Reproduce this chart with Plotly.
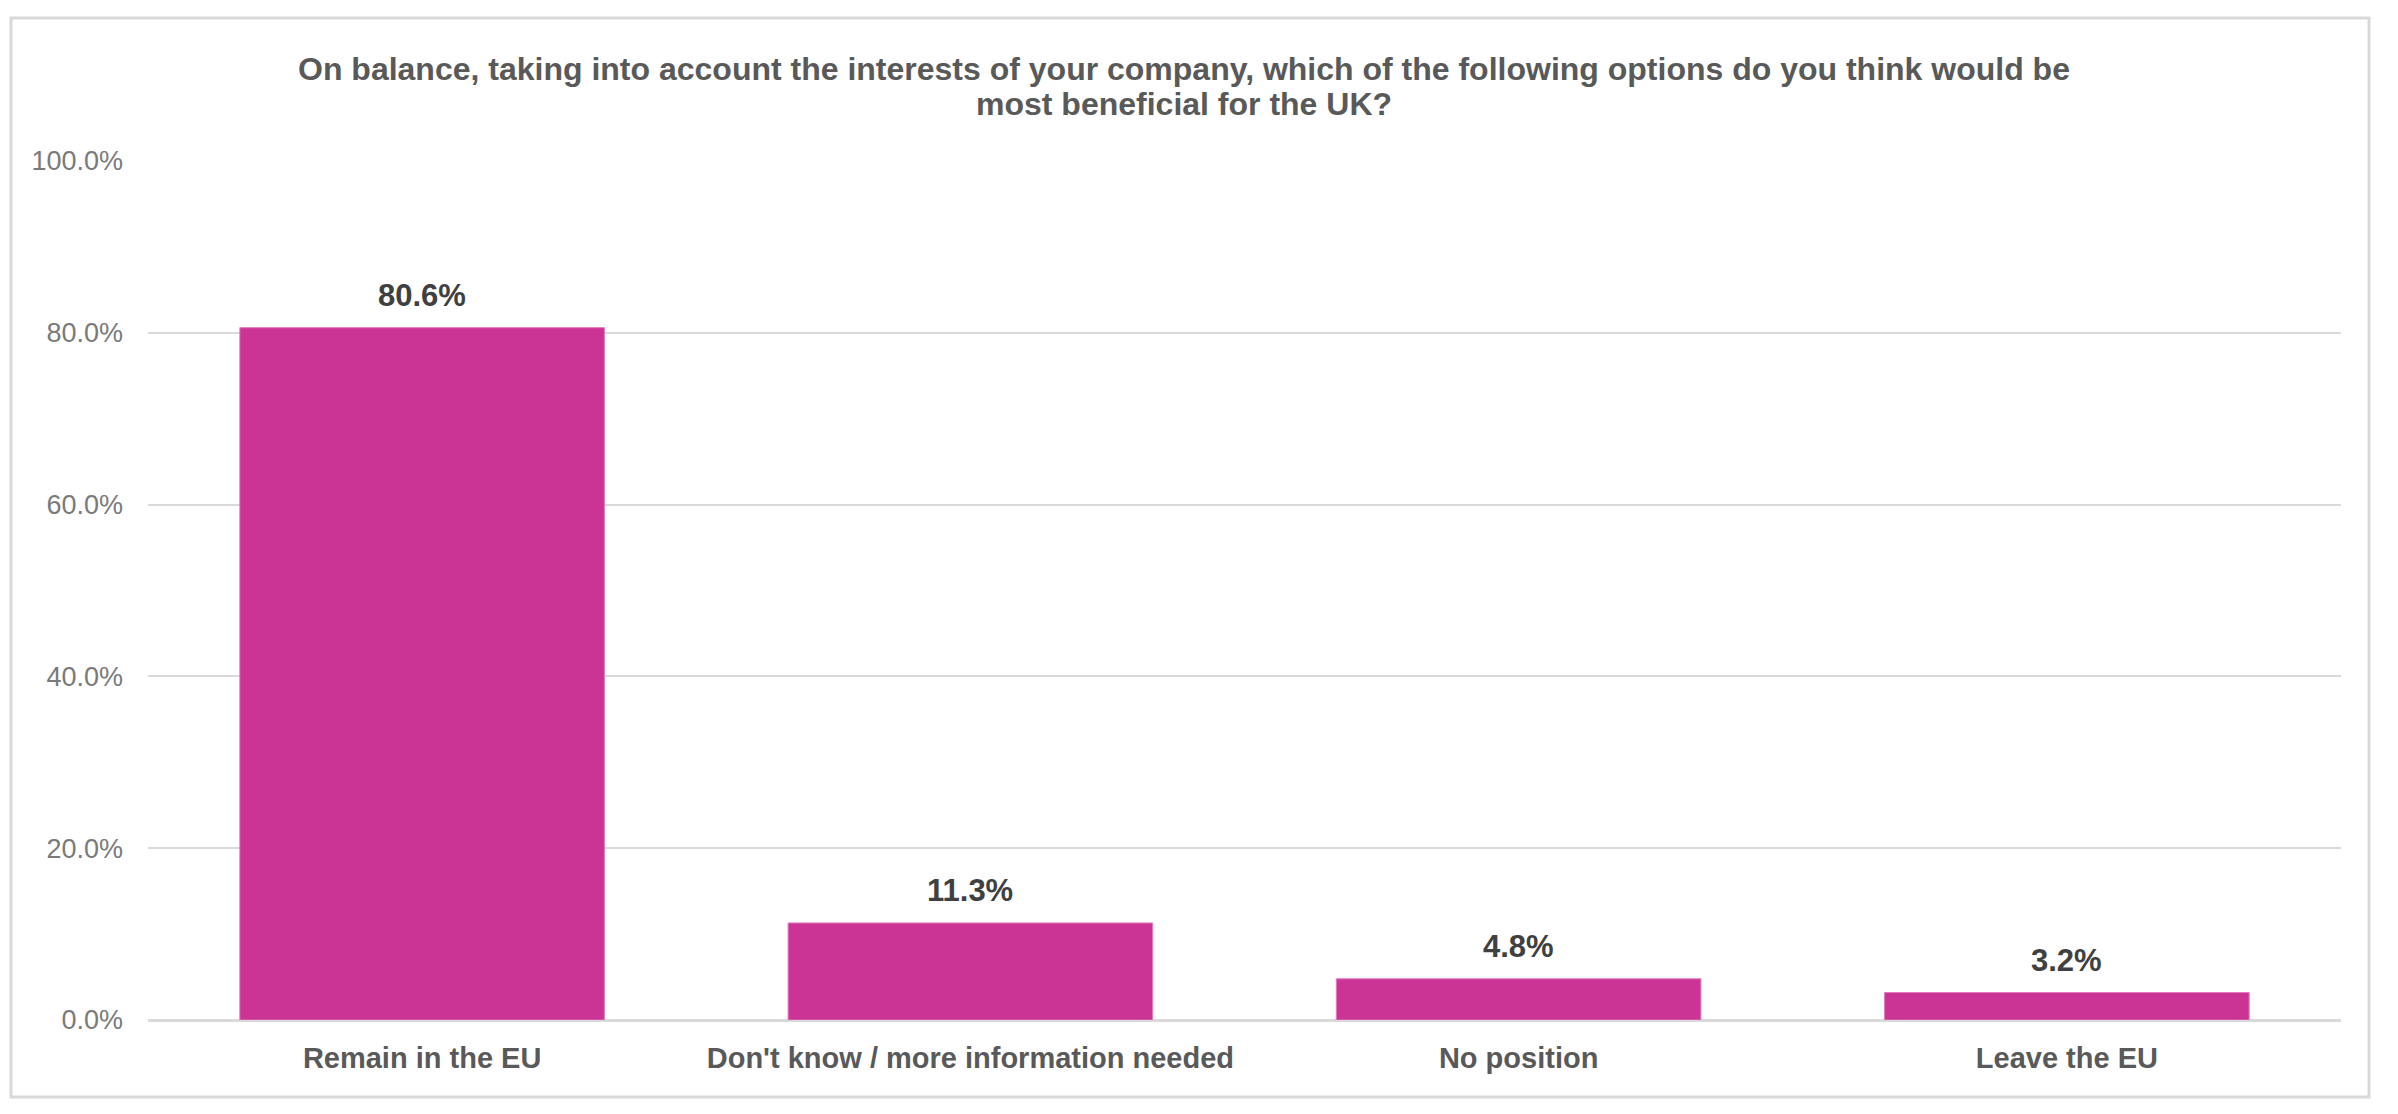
import plotly.graph_objects as go

categories = ["Remain in the EU", "Don't know / more information needed", "No position", "Leave the EU"]
values = [80.6, 11.3, 4.8, 3.2]
value_labels = ["80.6%", "11.3%", "4.8%", "3.2%"]
y_ticks = [0, 20, 40, 60, 80, 100]
y_tick_labels = ["0.0%", "20.0%", "40.0%", "60.0%", "80.0%", "100.0%"]
title_lines = ["On balance, taking into account the interests of your company, which of the following options do you think would be",
               "most beneficial for the UK?"]

FONT = "Liberation Sans, Arial, sans-serif"
BAR = "#CB3494"
GRID = "#D9D9D9"
TXT = "#595959"

W, H = 2398, 1114
L, R, T, B = 148, 57, 161, 94
pw, ph = W - L - R, H - T - B

fig = go.Figure()
fig.add_trace(go.Bar(
    x=categories, y=values,
    marker=dict(color=BAR, line=dict(color="#E07BBE", width=1)),
    hoverinfo="x+y",
))

for c, v, t in zip(categories, values, value_labels):
    fig.add_annotation(x=c, y=v, text=t, showarrow=False, yanchor="bottom", yshift=13,
                       font=dict(family=FONT, size=31, color="#404040", weight="bold"))

# title as two lines with tight spacing
title_y_px = [69, 104]
for line, ypx in zip(title_lines, title_y_px):
    fig.add_annotation(xref="paper", yref="paper",
                       x=(1184 - L) / pw, y=(H - B - ypx) / ph,
                       xanchor="center", yanchor="middle", showarrow=False, text=line,
                       font=dict(family=FONT, size=32, color=TXT, weight="bold"))

# outer frame
fig.add_shape(type="rect", xref="paper", yref="paper",
              x0=(11 - L) / pw, x1=(2369 - L) / pw,
              y0=(H - B - 1097) / ph, y1=(H - B - 18) / ph,
              line=dict(color=GRID, width=3), fillcolor="rgba(0,0,0,0)", layer="below")

fig.update_layout(
    width=W, height=H,
    margin=dict(l=L, r=R, t=T, b=B),
    paper_bgcolor="white", plot_bgcolor="white",
    bargap=0.335,
    showlegend=False,
    xaxis=dict(showgrid=False, showline=False, zeroline=False, ticks="",
               tickfont=dict(family=FONT, size=29, color=TXT, weight="bold"),
               ticklabelstandoff=18),
    yaxis=dict(range=[0, 100], tickvals=y_ticks, ticktext=y_tick_labels,
               showgrid=True, gridcolor=GRID, gridwidth=2,
               zeroline=True, zerolinecolor=GRID, zerolinewidth=3,
               showline=False, ticks="", ticklabelstandoff=24,
               tickfont=dict(family=FONT, size=27, color="#7a7a7a")),
)

fig.write_html("out.html")
